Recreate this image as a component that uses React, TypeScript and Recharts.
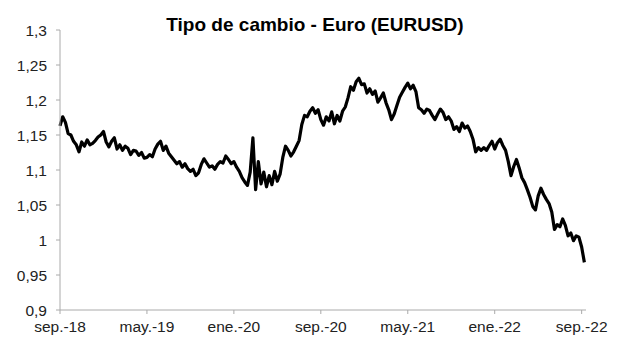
import { LineChart, Line, XAxis, YAxis } from 'recharts'

// EURUSD, four readings per month starting sep.-18
const eurusd = [
  1.163, 1.176, 1.168, 1.152, // sep-18
  1.150, 1.141, 1.136, 1.126,
  1.140, 1.134, 1.143, 1.136,
  1.138, 1.142, 1.147, 1.150,
  1.155, 1.140, 1.133, 1.141, // ene-19
  1.146, 1.130, 1.136, 1.128,
  1.134, 1.131, 1.122, 1.128,
  1.127, 1.121, 1.125, 1.117,
  1.118, 1.122, 1.119, 1.130, // may-19
  1.137, 1.141, 1.128, 1.134,
  1.124, 1.119, 1.114, 1.109,
  1.112, 1.104, 1.109, 1.102,
  1.098, 1.101, 1.092, 1.096, // sep-19
  1.108, 1.116, 1.110, 1.104,
  1.106, 1.101, 1.108, 1.112,
  1.110, 1.120, 1.115, 1.109,
  1.112, 1.104, 1.098, 1.089, // ene-20
  1.083, 1.078, 1.097, 1.146,
  1.072, 1.112, 1.080, 1.097,
  1.076, 1.092, 1.079, 1.098,
  1.084, 1.094, 1.118, 1.134, // may-20
  1.128, 1.120, 1.126, 1.134,
  1.142, 1.165, 1.178, 1.176,
  1.184, 1.189, 1.181, 1.186,
  1.172, 1.164, 1.176, 1.170, // sep-20
  1.183, 1.166, 1.178, 1.170,
  1.184, 1.190, 1.203, 1.219,
  1.214, 1.226, 1.231, 1.222,
  1.223, 1.210, 1.216, 1.208, // ene-21
  1.213, 1.197, 1.203, 1.210,
  1.196, 1.186, 1.172, 1.180,
  1.192, 1.204, 1.211, 1.218,
  1.224, 1.216, 1.221, 1.212, // may-21
  1.189, 1.186, 1.181, 1.187,
  1.185, 1.178, 1.172, 1.180,
  1.187, 1.182, 1.172, 1.176,
  1.170, 1.158, 1.162, 1.155, // sep-21
  1.167, 1.160, 1.163, 1.155,
  1.144, 1.126, 1.132, 1.128,
  1.132, 1.128, 1.135, 1.141,
  1.130, 1.139, 1.144, 1.135, // ene-22
  1.128, 1.112, 1.092, 1.105,
  1.115, 1.103, 1.089, 1.082,
  1.072, 1.061, 1.048, 1.043,
  1.063, 1.074, 1.065, 1.058, // may-22
  1.052, 1.040, 1.015, 1.022,
  1.019, 1.030, 1.021, 1.006,
  1.010, 0.999, 1.006, 1.004,
  0.990, 0.968, // sep-22
]

const tickMonths = [0, 8, 16, 24, 32, 40, 48]
const tickLabels = ['sep.-18', 'may.-19', 'ene.-20', 'sep.-20', 'may.-21', 'ene.-22', 'sep.-22']
const yTicks = [0.9, 0.95, 1, 1.05, 1.1, 1.15, 1.2, 1.25, 1.3]

const data = eurusd.map((v, i) => ({ m: i / 4, v }))

const font = '"Liberation Sans", Arial, sans-serif'

export default function App() {
  return (
    <div style={{ position: 'absolute', left: 0, top: 0, width: 617, height: 354, background: '#fff', fontFamily: font }}>
      <div
        style={{
          position: 'absolute',
          left: 0,
          width: 630,
          top: 14,
          textAlign: 'center',
          fontSize: 19,
          fontWeight: 'bold',
          color: '#000',
        }}
      >
        Tipo de cambio - Euro (EURUSD)
      </div>
      <LineChart width={617} height={354} data={data} margin={{ top: 30, right: 31, bottom: 0, left: 0 }}>
        <XAxis
          dataKey="m"
          type="number"
          domain={[0, 48.4]}
          ticks={tickMonths}
          tickFormatter={(v) => tickLabels[tickMonths.indexOf(v)] ?? ''}
          height={44}
          stroke="#aaa"
          tickSize={4}
          tickMargin={7}
          tick={{ fill: '#222', fontSize: 15.5, fontFamily: font }}
          interval={0}
        />
        <YAxis
          type="number"
          domain={[0.9, 1.3]}
          ticks={yTicks}
          tickFormatter={(v) => String(v).replace('.', ',')}
          width={60}
          stroke="#aaa"
          tickSize={4}
          tickMargin={9}
          tick={{ fill: '#222', fontSize: 15.5, fontFamily: font }}
          interval={0}
        />
        <Line
          type="linear"
          dataKey="v"
          stroke="#000"
          strokeWidth={3.2}
          strokeLinejoin="round"
          dot={false}
          isAnimationActive={false}
        />
      </LineChart>
    </div>
  )
}
